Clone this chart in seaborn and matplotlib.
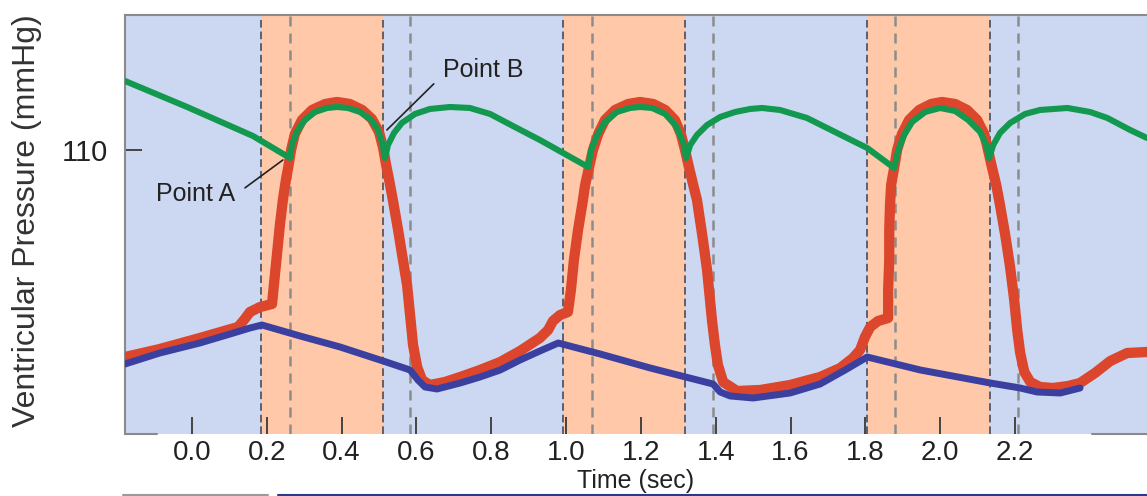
import matplotlib
matplotlib.use("Agg")
import matplotlib.pyplot as plt
import seaborn as sns
from matplotlib.lines import Line2D

# ---- data: time in s, pressure in mmHg ----
# left ventricular pressure (red)
lv_time = [-0.179, -0.086, 0.021, 0.123, 0.139, 0.155, 0.182, 0.214, 0.219, 0.227,
           0.235, 0.243, 0.251, 0.257, 0.265, 0.275, 0.294, 0.321, 0.356, 0.388,
           0.422, 0.455, 0.481, 0.500, 0.511, 0.519, 0.527, 0.537, 0.551, 0.564,
           0.575, 0.583, 0.591, 0.602, 0.615, 0.636, 0.676, 0.717, 0.770, 0.824,
           0.877, 0.930, 0.952, 0.965, 0.984, 1.005, 1.013, 1.021, 1.032, 1.043,
           1.051, 1.061, 1.072, 1.086, 1.104, 1.131, 1.166, 1.198, 1.233, 1.265,
           1.291, 1.307, 1.318, 1.329, 1.340, 1.350, 1.364, 1.377, 1.390, 1.398,
           1.406, 1.420, 1.457, 1.519, 1.599, 1.679, 1.733, 1.767, 1.786, 1.799,
           1.813, 1.834, 1.861, 1.861, 1.864, 1.864, 1.866, 1.869, 1.877, 1.885,
           1.898, 1.917, 1.944, 1.976, 2.005, 2.040, 2.072, 2.099, 2.118, 2.128,
           2.139, 2.150, 2.160, 2.174, 2.187, 2.198, 2.206, 2.214, 2.225, 2.241,
           2.267, 2.302, 2.342, 2.374, 2.414, 2.455, 2.500, 2.553]
lv_press = [27.2, 30.4, 34.8, 39.2, 42.0, 45.2, 47.2, 48.4, 56.0, 68.0,
            80.0, 90.0, 98.0, 102.8, 110.0, 116.4, 122.0, 126.0, 128.4, 129.2,
            128.4, 126.0, 122.4, 117.2, 110.8, 104.0, 98.0, 90.0, 78.0, 66.0,
            56.0, 44.0, 32.0, 23.2, 18.0, 16.0, 17.2, 19.2, 22.0, 25.2,
            29.6, 34.8, 38.0, 41.6, 44.0, 45.2, 54.0, 66.0, 78.0, 88.0,
            96.0, 102.8, 110.0, 116.4, 122.0, 126.0, 128.4, 129.2, 128.4, 126.0,
            122.0, 116.4, 110.0, 102.8, 96.0, 90.0, 76.0, 62.0, 42.0, 32.0,
            24.0, 17.2, 13.6, 14.0, 16.0, 19.2, 22.8, 26.8, 30.0, 35.2,
            39.2, 41.6, 42.8, 54.0, 66.0, 78.0, 88.0, 96.0, 102.8, 110.0,
            116.4, 122.0, 126.0, 128.4, 129.2, 128.4, 126.0, 122.0, 116.4, 110.0,
            102.8, 96.0, 88.0, 76.0, 63.2, 50.0, 38.0, 28.8, 21.2, 17.2,
            15.2, 14.8, 15.6, 16.8, 20.8, 25.6, 28.8, 29.2]

# aortic pressure (green)
ao_time = [-0.179, -0.013, 0.163, 0.262, 0.267, 0.281, 0.302, 0.329, 0.361, 0.388,
           0.417, 0.449, 0.476, 0.495, 0.508, 0.516, 0.524, 0.540, 0.561, 0.596,
           0.636, 0.690, 0.743, 0.797, 0.858, 0.930, 0.997, 1.059, 1.067, 1.083,
           1.104, 1.136, 1.171, 1.198, 1.230, 1.265, 1.294, 1.313, 1.321, 1.332,
           1.350, 1.377, 1.412, 1.452, 1.492, 1.524, 1.572, 1.644, 1.719, 1.805,
           1.877, 1.888, 1.904, 1.925, 1.960, 2.000, 2.040, 2.075, 2.107, 2.123,
           2.131, 2.142, 2.160, 2.187, 2.227, 2.267, 2.340, 2.401, 2.447, 2.508,
           2.553]
ao_press = [137.6, 127.2, 115.6, 106.8, 112.0, 117.6, 122.0, 125.2, 126.8, 127.2,
            126.8, 125.2, 122.4, 118.8, 113.2, 106.8, 112.0, 116.8, 120.8, 124.4,
            126.4, 127.2, 126.8, 124.4, 119.6, 114.0, 108.4, 103.2, 110.0, 116.0,
            121.2, 125.2, 126.8, 127.2, 126.8, 124.4, 119.6, 113.2, 106.8, 112.0,
            116.0, 120.0, 123.2, 125.2, 126.4, 126.8, 126.0, 122.8, 117.2, 110.8,
            102.8, 110.0, 116.0, 121.2, 125.2, 126.8, 125.6, 122.0, 117.2, 112.0,
            106.8, 112.0, 116.8, 120.8, 124.4, 126.0, 126.8, 125.2, 122.8, 118.0,
            114.8]

# atrial pressure (blue)
la_time = [-0.179, -0.086, 0.021, 0.102, 0.155, 0.187, 0.289, 0.396, 0.511, 0.583,
           0.604, 0.623, 0.655, 0.717, 0.770, 0.824, 0.877, 0.930, 0.979, 1.091,
           1.225, 1.393, 1.412, 1.439, 1.500, 1.599, 1.679, 1.746, 1.805, 1.947,
           2.134, 2.214, 2.259, 2.321, 2.374]
la_press = [24.4, 28.8, 32.8, 36.4, 38.8, 40.0, 35.6, 31.2, 25.6, 22.0,
            18.0, 15.2, 14.4, 16.8, 19.2, 22.0, 26.0, 29.6, 32.8, 28.4,
            22.8, 16.4, 13.2, 11.6, 10.8, 12.8, 16.4, 22.0, 27.2, 22.0,
            16.8, 14.8, 13.2, 12.8, 14.8]

# shaded ejection phases and event markers
eject_start = [0.184, 0.992, 1.805]
eject_end = [0.511, 1.318, 2.134]
dark_marks = [0.184, 0.511, 0.992, 1.318, 1.805, 2.134]
gray_marks = [0.262, 0.583, 1.070, 1.393, 1.880, 2.209]

x_ticks = [0.0, 0.2, 0.4, 0.6, 0.8, 1.0, 1.2, 1.4, 1.6, 1.8, 2.0, 2.2]
x_labels = ["0.0", "0.2", "0.4", "0.6", "0.8", "1.0", "1.2", "1.4", "1.6", "1.8", "2.0", "2.2"]
y_ticks = [110]
y_labels = ["110"]

# ---- style ----
sns.set_theme(style="white")
plt.rcParams['font.family'] = ['Liberation Sans', 'DejaVu Sans']
txt = '#222222'

fig = plt.figure(figsize=(11.47, 4.96), dpi=100)
ax = fig.add_axes([0.109, 0.125, 0.891, 0.8448])
ax.set_facecolor('#CCD8F1')

for a, b in zip(eject_start, eject_end):
    ax.axvspan(a, b, color='#FFC9A9', lw=0, zorder=0)
for t in dark_marks:
    ax.axvline(t, color='#3a4050', lw=1.1, ls=(0, (5, 2.6)), zorder=1)
for t in gray_marks:
    ax.axvline(t, color='#8c8c8c', lw=1.8, ls=(0, (4, 2.8)), zorder=1)

sns.lineplot(x=lv_time, y=lv_press, sort=False, estimator=None, ax=ax,
             color='#DB462C', lw=7.4, zorder=3, solid_capstyle='round', solid_joinstyle='round')
sns.lineplot(x=la_time, y=la_press, sort=False, estimator=None, ax=ax,
             color='#3B40A0', lw=5.0, zorder=4, solid_capstyle='round', solid_joinstyle='round')
sns.lineplot(x=ao_time, y=ao_press, sort=False, estimator=None, ax=ax,
             color='#12994F', lw=4.4, zorder=5, solid_capstyle='round', solid_joinstyle='round')

# annotations
ax.annotate("Point A", xy=(0.243, 106.0), xytext=(0.115, 92.4), ha='right', va='center',
            fontsize=18, color=txt,
            arrowprops=dict(arrowstyle='-', color=txt, lw=1.2, shrinkA=6, shrinkB=0,
                            relpos=(1.0, 0.45)), zorder=6)
ax.annotate("Point B", xy=(0.521, 118.0), xytext=(0.671, 142.0), ha='left', va='center',
            fontsize=18, color=txt,
            arrowprops=dict(arrowstyle='-', color=txt, lw=1.2, shrinkA=6, shrinkB=0,
                            relpos=(0.0, 0.3)), zorder=6)

ax.set_xlim(-0.179, 2.553)
ax.set_ylim(-3.6, 164)
ax.set_xticks(x_ticks, labels=x_labels)
ax.set_yticks(y_ticks, labels=y_labels)
ax.tick_params(axis='x', direction='in', length=12, width=1.4, color='#444444',
               pad=4, labelsize=20, labelcolor=txt, bottom=True)
ax.tick_params(axis='y', direction='in', length=12, width=1.4, color='#444444',
               pad=12, labelsize=21, labelcolor=txt, left=True)

ax.set_ylabel("Ventricular Pressure (mmHg)", fontsize=23, color='#333333')
ax.yaxis.set_label_coords(-0.081, 0.51)
ax.set_xlabel("Time (sec)", fontsize=18, color=txt, va='baseline')
ax.xaxis.set_label_coords(0.5, -0.13)

for side in ['left', 'top']:
    ax.spines[side].set_color('#8a8a8a')
    ax.spines[side].set_linewidth(1.5)
ax.spines['right'].set_visible(False)
ax.spines['bottom'].set_visible(False)
ax.axhline(-3.6, xmin=0, xmax=0.031, color='#8a8a8a', lw=1.5, clip_on=False, zorder=6)
ax.axhline(-3.6, xmin=0.946, xmax=1.0, color='#8a8a8a', lw=1.5, clip_on=False, zorder=6)

# thin edge lines at the very bottom of the image
fig.add_artist(Line2D([0.107, 0.234], [0.003, 0.003], color='#9a9a9a', lw=1.5))
fig.add_artist(Line2D([0.242, 1.0], [0.003, 0.003], color='#2b3a8c', lw=1.5))

fig.savefig("out.png", dpi=100)
